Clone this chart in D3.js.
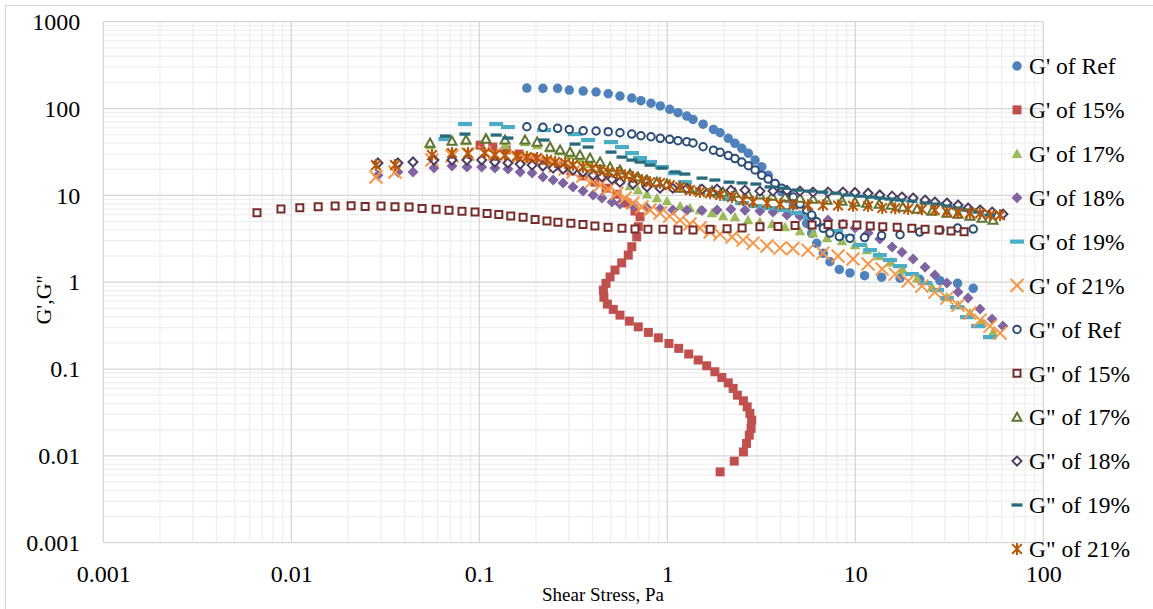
<!DOCTYPE html>
<html lang="en">
<head>
<meta charset="utf-8">
<title>G', G'' vs shear stress</title>
<script src="https://d3js.org/d3.v7.min.js"></script>
<style>
    body { margin: 0; background: #fff; }
    .lbl { font-family: "Liberation Serif", "Times New Roman", serif; fill: #000; }
</style>
</head>
<body>
<div id="container"></div>
<script>
    const w = 1153;
    const h = 609;

    // ---- data (shear stress in Pa, moduli in Pa) ----
    const refStress = [0.179, 0.218, 0.261, 0.301, 0.357, 0.418, 0.485, 0.56, 0.647, 0.724, 0.819, 0.918, 1.03, 1.14, 1.27, 1.37, 1.55, 1.76, 1.91, 2.11, 2.29, 2.49, 2.70, 2.93, 3.18, 3.44, 3.74, 4.06, 4.32, 4.68, 5.08, 5.51, 5.86, 6.23, 6.76, 7.33, 8.22, 9.37, 11.2, 13.8, 17.3, 22.0, 28.2, 35.0, 42.4];
    const refG1 = [172, 171, 171, 163, 159, 155, 148, 139, 132, 123, 115, 107, 98, 89.5, 82, 75, 66, 57.5, 52.6, 45.4, 39.7, 34.8, 30.5, 25.5, 21.4, 17.1, 13.7, 11.0, 9.2, 7.7, 5.9, 4.75, 3.65, 2.8, 2.15, 1.72, 1.40, 1.28, 1.19, 1.14, 1.11, 1.08, 1.04, 0.97, 0.85];
    const refG2 = [61.7, 60.7, 59.1, 57.5, 55.5, 55.1, 54.1, 52.6, 50.8, 48.6, 47.3, 45.4, 44.2, 42.6, 41.5, 40.1, 36.3, 33.1, 31.3, 28.7, 26.5, 24.2, 22.0, 19.6, 17.1, 15.4, 13.7, 12.1, 10.9, 9.55, 7.94, 6.77, 5.93, 4.96, 4.17, 3.68, 3.35, 3.2, 3.27, 3.44, 3.53, 3.78, 3.98, 4.2, 4.09];

    const p15StressG1 = [0.101, 0.118, 0.139, 0.163, 0.191, 0.224, 0.262, 0.307, 0.356, 0.412, 0.472, 0.54, 0.61, 0.673, 0.716, 0.701, 0.688, 0.647, 0.62, 0.572, 0.527, 0.496, 0.472, 0.457, 0.46, 0.48, 0.516, 0.56, 0.628, 0.701, 0.793, 0.896, 1.02, 1.15, 1.30, 1.46, 1.62, 1.79, 1.95, 2.11, 2.24, 2.36, 2.54, 2.66, 2.75, 2.81, 2.79, 2.73, 2.64, 2.54, 2.27, 1.91];
    const p15G1 = [37.9, 36.0, 33.3, 29.9, 26.9, 24.2, 21.8, 19.1, 16.7, 14.2, 12.1, 10.3, 8.15, 6.6, 5.67, 4.35, 3.33, 2.56, 2.05, 1.67, 1.38, 1.15, 0.97, 0.81, 0.67, 0.56, 0.486, 0.418, 0.356, 0.306, 0.264, 0.229, 0.197, 0.173, 0.149, 0.127, 0.109, 0.093, 0.080, 0.0693, 0.0598, 0.050, 0.043, 0.0367, 0.0308, 0.0258, 0.0207, 0.0173, 0.0139, 0.0111, 0.0087, 0.00654];
    const p15StressG2 = [0.00657, 0.00881, 0.0111, 0.0139, 0.0171, 0.0208, 0.0247, 0.030, 0.0356, 0.0423, 0.0496, 0.0589, 0.069, 0.0809, 0.0949, 0.110, 0.127, 0.147, 0.171, 0.198, 0.229, 0.262, 0.307, 0.356, 0.412, 0.484, 0.574, 0.673, 0.789, 0.949, 1.14, 1.37, 1.69, 2.08, 2.50, 3.11, 3.88, 4.78, 5.89, 7.16, 8.6, 10.2, 12.0, 14.0, 16.7, 20.0, 23.5, 27.9, 32.3, 37.9];
    const p15G2 = [6.3, 6.95, 7.2, 7.39, 7.53, 7.59, 7.43, 7.53, 7.39, 7.33, 7.08, 6.91, 6.72, 6.56, 6.42, 6.2, 6.04, 5.77, 5.58, 5.29, 5.06, 4.89, 4.76, 4.63, 4.43, 4.28, 4.17, 4.09, 4.06, 4.06, 3.98, 3.98, 4.06, 4.12, 4.20, 4.35, 4.39, 4.49, 4.55, 4.63, 4.64, 4.55, 4.43, 4.35, 4.28, 4.17, 4.06, 3.98, 3.88, 3.81];

    const p17Stress = [0.0547, 0.0716, 0.085, 0.1085, 0.137, 0.175, 0.203, 0.238, 0.269, 0.304, 0.343, 0.388, 0.439, 0.496, 0.56, 0.633, 0.699, 0.78, 0.881, 0.996, 1.17, 1.32, 1.49, 1.73, 1.98, 2.29, 2.69, 3.11, 3.61, 4.23, 5.08, 5.96, 7.07, 8.5, 9.96, 11.5, 13.4, 15.5, 17.9, 21.3, 25.6, 30.7, 35.2, 40.7, 47.2, 54.0];
    const p17G1 = [37.9, 42.2, 42.2, 47.0, 37.9, 41.1, 37.9, 34.9, 32.2, 29.1, 26.2, 22.9, 20.1, 17.6, 15.0, 12.8, 11.5, 10.3, 9.31, 8.6, 7.53, 7.14, 6.77, 6.25, 5.77, 5.62, 5.19, 4.93, 4.67, 4.31, 3.88, 3.68, 3.22, 2.97, 2.68, 2.34, 2.00, 1.70, 1.38, 1.11, 0.878, 0.674, 0.545, 0.441, 0.347, 0.266];
    const p17G2 = [40.0, 42.2, 43.4, 44.5, 43.4, 43.4, 41.1, 36.0, 33.3, 31.5, 29.1, 26.9, 24.2, 21.2, 19.6, 17.6, 16.3, 15.0, 14.2, 13.5, 12.1, 11.8, 11.5, 11.2, 10.9, 10.6, 10.3, 10.1, 9.8, 9.56, 9.31, 9.07, 8.83, 8.6, 8.37, 8.15, 7.94, 7.73, 7.33, 6.95, 6.59, 6.25, 6.09, 5.77, 5.48, 5.19];

    const p18Stress = [0.0289, 0.0369, 0.0444, 0.0574, 0.0716, 0.086, 0.103, 0.121, 0.142, 0.165, 0.191, 0.218, 0.247, 0.279, 0.315, 0.356, 0.403, 0.449, 0.508, 0.56, 0.657, 0.78, 0.915, 1.07, 1.27, 1.53, 1.84, 2.18, 2.59, 3.11, 3.65, 4.33, 5.08, 5.96, 7.16, 8.6, 9.96, 11.7, 13.5, 15.7, 17.7, 20.3, 23.5, 26.5, 30.7, 35.2, 39.8, 46.1, 53.4, 61.0];
    const p18G1 = [17.1, 18.6, 18.6, 20.6, 21.8, 21.2, 21.2, 20.6, 20.1, 18.6, 18.1, 16.3, 15.0, 13.9, 12.5, 11.2, 10.1, 9.31, 8.37, 7.94, 7.53, 7.14, 6.95, 6.8, 6.75, 6.7, 6.8, 6.9, 6.75, 6.59, 6.42, 5.93, 5.77, 5.48, 5.19, 4.67, 4.20, 3.68, 3.14, 2.54, 2.22, 1.85, 1.49, 1.21, 0.976, 0.769, 0.656, 0.49, 0.376, 0.312];
    const p18G2 = [23.6, 23.6, 24.2, 25.5, 25.5, 25.5, 25.5, 24.2, 23.6, 22.9, 22.3, 21.8, 20.6, 20.1, 19.6, 18.6, 17.1, 16.3, 15.4, 14.2, 13.5, 12.5, 12.1, 12.1, 12.0, 11.8, 11.8, 11.5, 11.5, 11.2, 11.2, 11.4, 11.2, 10.9, 10.9, 10.9, 10.8, 10.6, 10.1, 9.8, 9.56, 9.31, 8.83, 8.37, 8.15, 7.73, 7.14, 6.77, 6.42, 6.09];

    const p19Stress = [0.066, 0.0839, 0.123, 0.142, 0.221, 0.323, 0.379, 0.502, 0.574, 0.649, 0.716, 0.809, 0.937, 1.10, 1.24, 1.53, 1.79, 2.13, 2.50, 2.96, 3.52, 4.18, 4.9, 5.74, 6.73, 7.89, 9.14, 10.6, 12.0, 13.5, 15.3, 17.3, 20.0, 23.5, 27.2, 30.7, 34.8, 39.3, 45.0, 52.0];
    const p19G1 = [44.5, 66.3, 66.3, 61.2, 56.5, 50.8, 43.4, 41.1, 36.0, 30.7, 26.9, 24.2, 21.2, 18.0, 14.2, 11.5, 10.1, 9.07, 8.15, 7.53, 7.14, 6.77, 6.25, 5.62, 4.55, 3.88, 3.40, 2.68, 2.34, 2.05, 1.80, 1.53, 1.24, 0.976, 0.81, 0.656, 0.516, 0.396, 0.312, 0.233];
    const p19G2 = [48.2, 50.8, 49.5, 45.7, 43.4, 39.0, 36.0, 31.5, 27.6, 25.5, 24.2, 22.3, 20.6, 18.6, 17.6, 15.8, 15.0, 14.2, 13.9, 13.5, 12.5, 12.1, 11.5, 11.2, 10.9, 10.6, 10.1, 9.8, 9.56, 9.31, 9.07, 8.83, 8.6, 8.15, 7.94, 7.53, 7.14, 6.77, 6.42, 5.93];

    const p21Stress = [0.0282, 0.0356, 0.056, 0.0716, 0.0871, 0.107, 0.121, 0.137, 0.159, 0.179, 0.203, 0.229, 0.253, 0.286, 0.315, 0.356, 0.398, 0.439, 0.484, 0.54, 0.596, 0.657, 0.733, 0.809, 0.915, 1.03, 1.17, 1.32, 1.49, 1.69, 1.91, 2.21, 2.53, 2.86, 3.39, 3.98, 4.66, 5.6, 6.73, 8.09, 9.72, 11.7, 13.9, 16.3, 19.1, 22.6, 26.5, 30.7, 35.2, 40.7, 46.1, 52.1, 58.9];
    const p21G1 = [16.3, 18.6, 25.5, 28.4, 29.9, 31.5, 29.9, 28.4, 26.9, 25.5, 24.2, 22.9, 21.8, 20.1, 18.6, 16.7, 14.6, 13.1, 11.8, 10.6, 9.31, 8.15, 7.33, 6.77, 6.25, 5.77, 5.19, 4.67, 4.20, 3.78, 3.58, 3.31, 3.05, 2.82, 2.61, 2.47, 2.44, 2.34, 2.16, 2.00, 1.85, 1.62, 1.42, 1.24, 1.03, 0.902, 0.769, 0.656, 0.545, 0.441, 0.366, 0.312, 0.259];
    const p21G2 = [22.3, 22.3, 29.1, 30.7, 30.7, 30.7, 29.1, 29.1, 28.4, 27.6, 26.9, 25.5, 24.2, 23.6, 22.3, 21.2, 20.6, 19.6, 18.6, 18.1, 17.1, 16.3, 15.0, 14.2, 13.9, 13.1, 12.5, 11.5, 10.9, 10.6, 10.1, 9.56, 8.83, 8.37, 8.15, 7.9, 7.8, 7.7, 7.7, 7.65, 7.6, 7.53, 7.14, 7.1, 6.95, 6.9, 6.77, 6.42, 6.25, 6.25, 6.2, 5.93, 5.9];

    const xTickValues = [0.001, 0.01, 0.1, 1, 10, 100];
    const xTickLabels = ["0.001", "0.01", "0.1", "1", "10", "100"];
    const yTickValues = [0.001, 0.01, 0.1, 1, 10, 100, 1000];
    const yTickLabels = ["0.001", "0.01", "0.1", "1", "10", "100", "1000"];

    // ---- marker shapes (size = width squared) ----
    const shape = {
        circle: {draw(c, s) { const r = Math.sqrt(s) / 2; c.moveTo(r, 0); c.arc(0, 0, r, 0, 2 * Math.PI); }},
        square: {draw(c, s) { const r = Math.sqrt(s) / 2; c.rect(-r, -r, 2 * r, 2 * r); }},
        triangle: {draw(c, s) { const r = Math.sqrt(s) / 2; c.moveTo(0, -r); c.lineTo(r, r * 0.8); c.lineTo(-r, r * 0.8); c.closePath(); }},
        diamond: {draw(c, s) { const r = Math.sqrt(s) / 2; c.moveTo(0, -r); c.lineTo(r, 0); c.lineTo(0, r); c.lineTo(-r, 0); c.closePath(); }},
        dash: {draw(c, s) { const r = Math.sqrt(s) / 2; c.rect(-r, -r * 0.3, 2 * r, r * 0.6); }},
        x: {draw(c, s) { const r = Math.sqrt(s) / 2; c.moveTo(-r, -r); c.lineTo(r, r); c.moveTo(-r, r); c.lineTo(r, -r); }},
        star: {draw(c, s) { const r = Math.sqrt(s) / 2, d = r * 0.8; c.moveTo(-d, -d); c.lineTo(d, d); c.moveTo(-d, d); c.lineTo(d, -d); c.moveTo(0, -r); c.lineTo(0, r); }}
    };

    const series = [
        {name: "G' of Ref", xs: refStress, ys: refG1, type: "circle", size: 9.5, fill: "#4F81BD"},
        {name: "G' of 15%", xs: p15StressG1, ys: p15G1, type: "square", size: 9, fill: "#C0504D"},
        {name: "G' of 17%", xs: p17Stress, ys: p17G1, type: "triangle", size: 10.5, fill: "#9BBB59"},
        {name: "G' of 18%", xs: p18Stress, ys: p18G1, type: "diamond", size: 11, fill: "#8064A2"},
        {name: "G' of 19%", xs: p19Stress, ys: p19G1, type: "dash", size: 14, fill: "#4BACC6"},
        {name: "G' of 21%", xs: p21Stress, ys: p21G1, type: "x", size: 13, stroke: "#F79646"},
        {name: "G\" of Ref", xs: refStress, ys: refG2, type: "circle", size: 7.5, stroke: "#2C4D75"},
        {name: "G\" of 15%", xs: p15StressG2, ys: p15G2, type: "square", size: 7, stroke: "#772C2A"},
        {name: "G\" of 17%", xs: p17Stress, ys: p17G2, type: "triangle", size: 9, stroke: "#5F7530"},
        {name: "G\" of 18%", xs: p18Stress, ys: p18G2, type: "diamond", size: 9, stroke: "#4D3B62"},
        {name: "G\" of 19%", xs: p19Stress, ys: p19G2, type: "dash", size: 11, fill: "#276A7C"},
        {name: "G\" of 21%", xs: p21Stress, ys: p21G2, type: "star", size: 12, stroke: "#B65708"}
    ];

    const svg = d3.select("div#container").append("svg")
        .attr("width", w).attr("height", h)
        .style("background-color", "#fff");

    // chart border
    svg.append("rect").attr("x", 5.5).attr("y", 5.5).attr("width", w + 20).attr("height", h + 20)
        .attr("fill", "none").attr("stroke", "#d9d9d9").attr("stroke-width", 1.3);

    const x = d3.scaleLog().domain([0.001, 100]).range([103.3, 1043.3]);
    const y = d3.scaleLog().domain([0.001, 1000]).range([542.7, 21.7]);

    const isDecade = v => Math.abs(Math.log10(v) - Math.round(Math.log10(v))) < 1e-9;

    // gridlines
    const grid = svg.append("g");
    grid.selectAll("line.minx").data(x.ticks().filter(v => !isDecade(v))).enter().append("line")
        .attr("x1", d => x(d)).attr("x2", d => x(d)).attr("y1", y(1000)).attr("y2", y(0.001))
        .attr("stroke", "#efefef").attr("stroke-width", 1.3);
    grid.selectAll("line.miny").data(y.ticks().filter(v => !isDecade(v))).enter().append("line")
        .attr("y1", d => y(d)).attr("y2", d => y(d)).attr("x1", x(0.001)).attr("x2", x(100))
        .attr("stroke", "#efefef").attr("stroke-width", 1.3);
    grid.selectAll("line.majx").data(xTickValues).enter().append("line")
        .attr("x1", d => x(d)).attr("x2", d => x(d)).attr("y1", y(1000)).attr("y2", y(0.001))
        .attr("stroke", "#d6d6d6").attr("stroke-width", 1.3);
    grid.selectAll("line.majy").data(yTickValues).enter().append("line")
        .attr("y1", d => y(d)).attr("y2", d => y(d)).attr("x1", x(0.001)).attr("x2", x(100))
        .attr("stroke", "#d6d6d6").attr("stroke-width", 1.3);

    // axes (labels only)
    svg.append("g").attr("transform", "translate(0," + y(0.001) + ")")
        .call(d3.axisBottom(x).tickValues(xTickValues).tickFormat((d, i) => xTickLabels[i]).tickSize(0).tickPadding(22))
        .call(g => g.select(".domain").remove())
        .attr("font-family", "'Liberation Serif', serif").attr("font-size", 24);
    svg.append("g").attr("transform", "translate(" + x(0.001) + ",0)")
        .call(d3.axisLeft(y).tickValues(yTickValues).tickFormat((d, i) => yTickLabels[i]).tickSize(0).tickPadding(23))
        .call(g => g.select(".domain").remove())
        .attr("font-family", "'Liberation Serif', serif").attr("font-size", 24);

    // axis titles
    svg.append("text").attr("class", "lbl").attr("font-size", 19)
        .attr("x", 603).attr("y", 601).attr("text-anchor", "middle").text("Shear Stress, Pa");
    svg.append("text").attr("class", "lbl").attr("font-size", 22)
        .attr("transform", "translate(51,300) rotate(-90)").attr("text-anchor", "middle").text("G',G''");

    function styleMarker(sel, s) {
        const lineOnly = s.type === "x" || s.type === "star";
        sel.attr("d", d3.symbol().type(shape[s.type]).size(s.size * s.size))
            .attr("fill", s.fill ? s.fill : (lineOnly ? "none" : "#fff"))
            .attr("stroke", s.stroke ? s.stroke : "none")
            .attr("stroke-width", s.stroke ? 2 : 0);
    }

    // series markers
    series.forEach(s => {
        svg.append("g").selectAll("path")
            .data(d3.zip(s.xs, s.ys))
            .enter()
            .append("path")
            .attr("transform", d => "translate(" + x(d[0]) + "," + y(d[1]) + ")")
            .call(styleMarker, s);
    });

    // legend
    const legend = svg.append("g");
    series.forEach((s, i) => {
        const cy = 66 + i * 43.9;
        legend.append("path").attr("transform", "translate(1017," + cy + ")").call(styleMarker, s);
        legend.append("text").attr("class", "lbl").attr("font-size", 23.5)
            .attr("x", 1029).attr("y", cy).attr("dy", "0.35em").text(s.name);
    });
</script>
</body>
</html>
